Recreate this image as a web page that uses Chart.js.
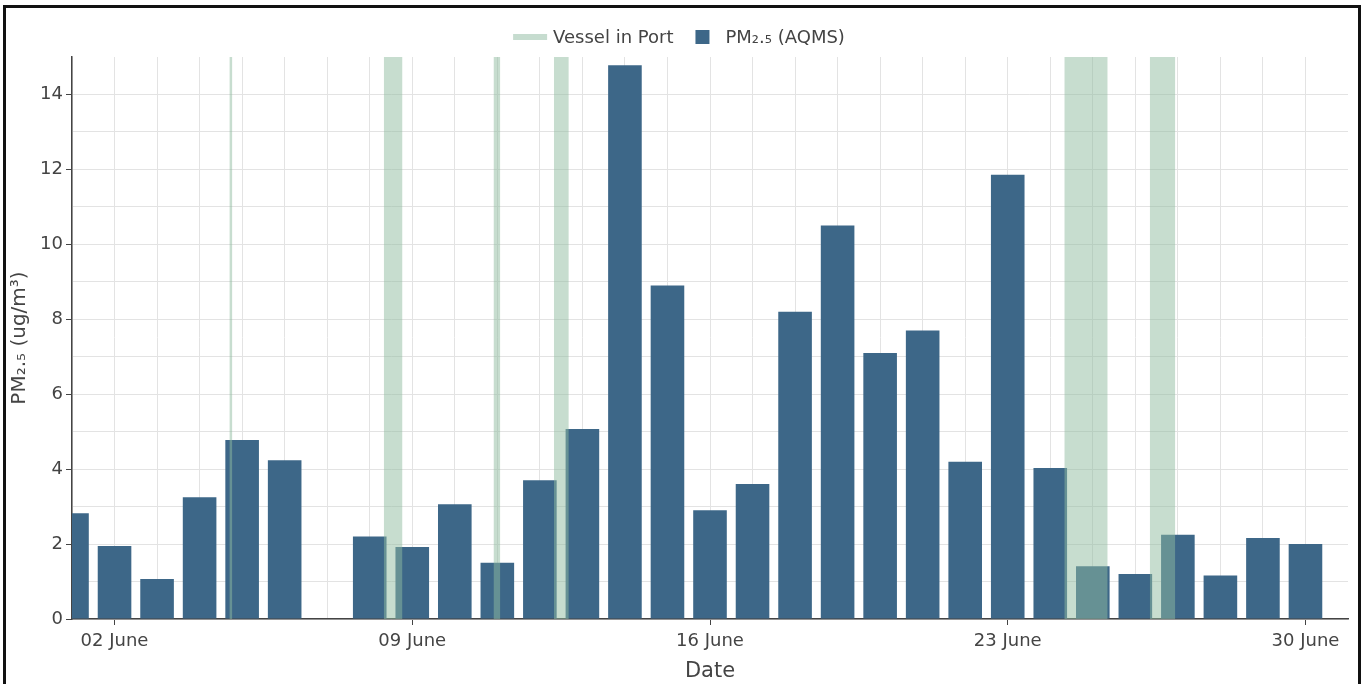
<!DOCTYPE html>
<html>
<head>
<meta charset="utf-8">
<script src="https://cdn.jsdelivr.net/npm/chart.js@4"></script>
<style>
  body { margin: 0; background: #fff; }
  #frame { position: absolute; left: 3px; top: 5px; width: 1352px; height: 700px; border: 3px solid #111; }
  canvas { display: block; }
</style>
</head>
<body>
<div id="frame"><canvas id="pmChart" width="1352" height="676"></canvas></div>
<script>
const days = [1, 2, 3, 4, 5, 6, 7, 8, 9, 10, 11, 12, 13, 14, 15, 16, 17, 18, 19, 20, 21, 22, 23, 24, 25, 26, 27, 28, 29, 30];
const pm25 = [2.82, 1.95, 1.07, 3.25, 4.78, 4.24, null, 2.2, 1.92, 3.06, 1.5, 3.7, 5.07, 14.78, 8.9, 2.9, 3.6, 8.2, 10.5, 7.1, 7.7, 4.2, 11.86, 4.03, 1.41, 1.2, 2.25, 1.16, 2.16, 2.0];
// vessel in port periods, fractional day of June
const vesselStart = [4.70, 8.33, 10.91, 12.33, 24.33, 26.34];
const vesselEnd = [4.77, 8.77, 11.07, 12.68, 25.35, 26.94];
const tickDays = [2, 9, 16, 23, 30];
const tickLabels = ['02 June', '09 June', '16 June', '23 June', '30 June'];

const barColor = 'rgb(61,103,136)';
const bandColor = 'rgba(143,188,160,0.5)';
const yMax = 15;
const clear = 'rgba(0,0,0,0)';

// band polygons: up at start, across, down at end, then a gap
const bandPoints = [];
vesselStart.forEach((s, i) => {
    bandPoints.push({x: s, y: 0}, {x: s, y: yMax}, {x: vesselEnd[i], y: yMax}, {x: vesselEnd[i], y: 0}, {x: vesselEnd[i], y: null});
});

Chart.defaults.font.family = "'DejaVu Sans', Verdana, sans-serif";
Chart.defaults.color = '#444';

const legendItems = [
    {text: 'Vessel in Port', kind: 'line', color: '#c6dccf'},
    {text: 'PM\u2082.\u2085 (AQMS)', kind: 'box', color: barColor}
];

const topLegend = {
    id: 'topLegend',
    afterDraw(chart) {
        const c = chart.ctx;
        c.save();
        c.font = "18px 'DejaVu Sans', Verdana, sans-serif";
        c.textBaseline = 'middle';
        const y = 29;
        let total = 0;
        legendItems.forEach((it, i) => {
            it.sym = it.kind === 'line' ? 34 : 14;
            it.gap = it.kind === 'line' ? 6 : 16;
            it.w = it.sym + it.gap + c.measureText(it.text).width;
            total += it.w + (i ? 22 : 0);
        });
        let x = chart.width / 2 - 3 - total / 2;
        legendItems.forEach(it => {
            c.fillStyle = it.color;
            if (it.kind === 'line') c.fillRect(x, y - 3, 34, 6);
            else c.fillRect(x, y - 7, 14, 14);
            c.fillStyle = '#444';
            c.fillText(it.text, x + it.sym + it.gap, y + 1);
            x += it.w + 22;
        });
        c.restore();
    }
};

const tickVal = c => (c.tick ? c.tick.value : NaN);

const ctx = document.getElementById('pmChart').getContext('2d');
const pmChart = new Chart(ctx, {
    data: {
        datasets: [{
            type: 'line',
            label: 'Vessel in Port',
            data: bandPoints,
            backgroundColor: bandColor,
            borderWidth: 0,
            pointRadius: 0,
            fill: 'origin',
            spanGaps: false,
            tension: 0
        }, {
            type: 'bar',
            label: 'PM\u2082.\u2085 (AQMS)',
            data: days.map((d, i) => ({x: d, y: pm25[i]})),
            backgroundColor: barColor,
            categoryPercentage: 1,
            barPercentage: 0.79
        }]
    },
    options: {
        responsive: false,
        animation: false,
        devicePixelRatio: 1,
        layout: { padding: { top: 49, right: 10, left: 0, bottom: 0 } },
        plugins: {
            legend: { display: false },
            tooltip: { enabled: false }
        },
        scales: {
            x: {
                type: 'linear',
                min: 1,
                max: 31,
                offset: false,
                afterFit: s => { s.height = 65; },
                grid: {
                    offset: false,
                    color: c => tickVal(c) === 31 ? clear : '#e3e3e3',
                    tickColor: c => tickDays.includes(tickVal(c)) ? '#444' : clear,
                    tickLength: 6
                },
                border: { color: '#444', width: 1.5 },
                ticks: {
                    stepSize: 1,
                    autoSkip: false,
                    maxRotation: 0,
                    padding: 6,
                    font: { size: 18 },
                    callback: v => {
                        const k = tickDays.indexOf(v);
                        return k >= 0 ? tickLabels[k] : '';
                    }
                },
                title: {
                    display: true,
                    text: 'Date',
                    font: { size: 21 },
                    padding: { top: 0, bottom: 0 }
                }
            },
            y: {
                min: 0,
                max: yMax,
                afterFit: s => { s.width = 66; },
                grid: {
                    color: c => tickVal(c) === yMax ? clear : '#e3e3e3',
                    tickColor: c => tickVal(c) % 2 === 0 ? '#444' : clear,
                    tickLength: 6
                },
                border: { color: '#444', width: 1.5 },
                ticks: {
                    stepSize: 1,
                    padding: 3,
                    font: { size: 18 },
                    callback: v => v % 2 === 0 ? v : ''
                },
                title: {
                    display: true,
                    text: 'PM\u2082.\u2085 (ug/m\u00b3)',
                    font: { size: 20 },
                    padding: { top: 2, bottom: 0 }
                }
            }
        }
    },
    plugins: [topLegend]
});
</script>
</body>
</html>
